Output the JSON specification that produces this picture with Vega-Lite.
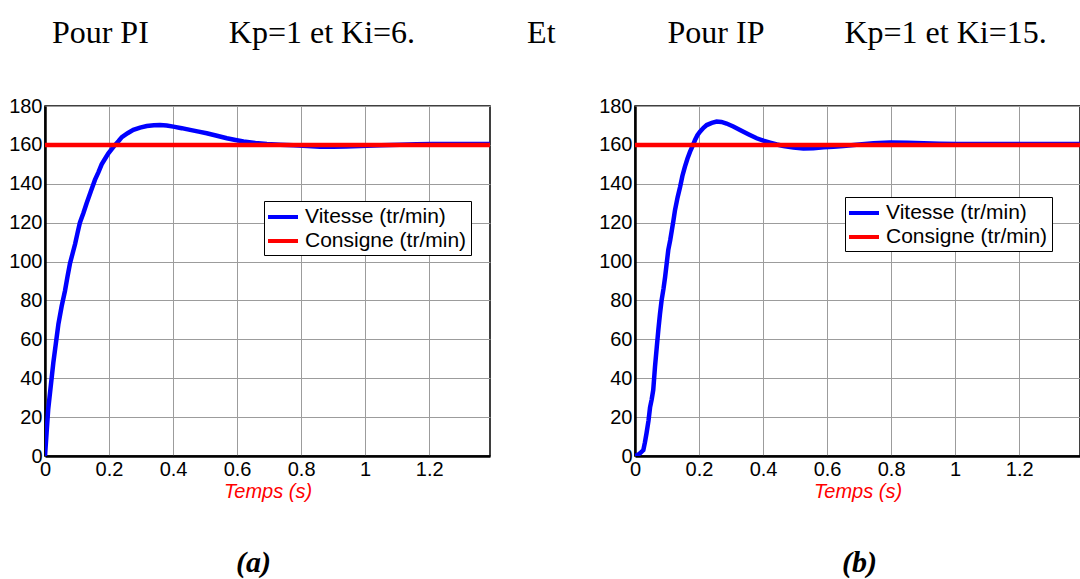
{
  "$schema": "https://vega.github.io/schema/vega-lite/v6.json",
  "background": "white",
  "padding": {"left": 7, "top": 17, "right": 0, "bottom": 0},
  "title": {
    "text": "Pour PI\u00a0\u00a0\u00a0\u00a0\u00a0\u00a0\u00a0\u00a0\u00a0\u00a0Kp=1 et Ki=6.\u00a0\u00a0\u00a0\u00a0\u00a0\u00a0\u00a0\u00a0\u00a0\u00a0\u00a0\u00a0\u00a0\u00a0Et\u00a0\u00a0\u00a0\u00a0\u00a0\u00a0\u00a0\u00a0\u00a0\u00a0\u00a0\u00a0\u00a0\u00a0Pour IP\u00a0\u00a0\u00a0\u00a0\u00a0\u00a0\u00a0\u00a0\u00a0\u00a0Kp=1 et Ki=15.",
    "anchor": "start",
    "frame": "bounds",
    "font": "Liberation Serif",
    "fontSize": 32,
    "fontWeight": "normal",
    "color": "black",
    "dx": 44,
    "offset": 45
  },
  "bounds": "flush",
  "spacing": 145,
  "datasets": {
    "pi": [
      {"t": 0, "v": 0}, {"t": 0.005, "v": 12}, {"t": 0.01, "v": 24}, {"t": 0.018, "v": 36},
      {"t": 0.026, "v": 48}, {"t": 0.034, "v": 58}, {"t": 0.042, "v": 68}, {"t": 0.052, "v": 77},
      {"t": 0.0625, "v": 85}, {"t": 0.07, "v": 92}, {"t": 0.078, "v": 99}, {"t": 0.086, "v": 104},
      {"t": 0.094, "v": 109}, {"t": 0.102, "v": 115}, {"t": 0.109, "v": 120}, {"t": 0.12, "v": 125},
      {"t": 0.13, "v": 130}, {"t": 0.143, "v": 136}, {"t": 0.156, "v": 142}, {"t": 0.167, "v": 146},
      {"t": 0.177, "v": 150}, {"t": 0.188, "v": 153}, {"t": 0.198, "v": 155.7}, {"t": 0.209, "v": 158},
      {"t": 0.219, "v": 160}, {"t": 0.23, "v": 162}, {"t": 0.24, "v": 164}, {"t": 0.258, "v": 166},
      {"t": 0.276, "v": 167.7}, {"t": 0.297, "v": 168.9}, {"t": 0.318, "v": 169.7}, {"t": 0.34, "v": 170.1},
      {"t": 0.359, "v": 170.2}, {"t": 0.38, "v": 170}, {"t": 0.401, "v": 169.4}, {"t": 0.427, "v": 168.6},
      {"t": 0.453, "v": 167.7}, {"t": 0.48, "v": 166.8}, {"t": 0.505, "v": 166}, {"t": 0.537, "v": 164.7},
      {"t": 0.568, "v": 163.4}, {"t": 0.595, "v": 162.5}, {"t": 0.62, "v": 161.7}, {"t": 0.657, "v": 161},
      {"t": 0.693, "v": 160.5}, {"t": 0.735, "v": 160.1}, {"t": 0.776, "v": 159.8}, {"t": 0.82, "v": 159.4},
      {"t": 0.859, "v": 159.1}, {"t": 0.9, "v": 159.1}, {"t": 0.94, "v": 159.2}, {"t": 0.984, "v": 159.4},
      {"t": 1.05, "v": 159.8}, {"t": 1.109, "v": 160.1}, {"t": 1.16, "v": 160.3}, {"t": 1.21, "v": 160.5},
      {"t": 1.3, "v": 160.5}, {"t": 1.39, "v": 160.5}
    ],
    "ip": [
      {"t": 0, "v": 0}, {"t": 0.008, "v": 0.5}, {"t": 0.0156, "v": 1.4}, {"t": 0.026, "v": 3},
      {"t": 0.031, "v": 7}, {"t": 0.036, "v": 11.7}, {"t": 0.042, "v": 18}, {"t": 0.047, "v": 25},
      {"t": 0.052, "v": 29}, {"t": 0.057, "v": 34}, {"t": 0.0625, "v": 46}, {"t": 0.068, "v": 56},
      {"t": 0.073, "v": 65}, {"t": 0.078, "v": 73}, {"t": 0.083, "v": 80}, {"t": 0.089, "v": 86},
      {"t": 0.094, "v": 92}, {"t": 0.099, "v": 99}, {"t": 0.104, "v": 106}, {"t": 0.11, "v": 111},
      {"t": 0.115, "v": 116}, {"t": 0.12, "v": 121}, {"t": 0.125, "v": 126.5}, {"t": 0.133, "v": 133},
      {"t": 0.141, "v": 138.5}, {"t": 0.148, "v": 144}, {"t": 0.156, "v": 148.8}, {"t": 0.164, "v": 153},
      {"t": 0.172, "v": 156.5}, {"t": 0.18, "v": 159.5}, {"t": 0.1875, "v": 162.5}, {"t": 0.195, "v": 165},
      {"t": 0.203, "v": 166.8}, {"t": 0.214, "v": 168.8}, {"t": 0.224, "v": 170.2}, {"t": 0.24, "v": 171.3},
      {"t": 0.255, "v": 172}, {"t": 0.27, "v": 171.8}, {"t": 0.286, "v": 171}, {"t": 0.307, "v": 169.5},
      {"t": 0.328, "v": 167.7}, {"t": 0.354, "v": 165.5}, {"t": 0.38, "v": 163.4}, {"t": 0.401, "v": 162.2},
      {"t": 0.422, "v": 161.2}, {"t": 0.443, "v": 160.2}, {"t": 0.464, "v": 159.4}, {"t": 0.495, "v": 158.6},
      {"t": 0.526, "v": 158.2}, {"t": 0.557, "v": 158.3}, {"t": 0.589, "v": 158.8}, {"t": 0.62, "v": 159.1},
      {"t": 0.651, "v": 159.4}, {"t": 0.7, "v": 160.2}, {"t": 0.745, "v": 160.8}, {"t": 0.797, "v": 161.2},
      {"t": 0.85, "v": 161.1}, {"t": 0.901, "v": 160.8}, {"t": 0.95, "v": 160.6}, {"t": 1.005, "v": 160.5},
      {"t": 1.1, "v": 160.5}, {"t": 1.161, "v": 160.5}, {"t": 1.25, "v": 160.5}, {"t": 1.39, "v": 160.5}
    ],
    "consigne": [
      {"t": 0, "v": 160}, {"t": 1.39, "v": 160}
    ]
  },
  "config": {
    "view": {"stroke": "black", "strokeWidth": 1.5},
    "axis": {
      "labelFont": "Liberation Sans",
      "labelFontSize": 20,
      "labelColor": "black",
      "labelFlush": false,
      "labelOverlap": false,
      "labelPadding": 3,
      "domainColor": "black",
      "domainWidth": 2.5,
      "gridColor": "#9c9c9c",
      "gridWidth": 1,
      "gridOpacity": 1,
      "ticks": false,
      "titleFont": "Liberation Sans",
      "titleFontSize": 20,
      "titleFontStyle": "italic",
      "titleFontWeight": "normal",
      "titleColor": "#ff0000",
      "titlePadding": 2
    },
    "legend": {
      "orient": "none",
      "direction": "vertical",
      "title": null,
      "symbolType": "M-1.5,0H1.5",
      "symbolStrokeWidth": 4,
      "symbolSize": 400,
      "symbolOpacity": 1,
      "symbolOffset": 3,
      "labelFont": "Liberation Sans",
      "labelFontSize": 21,
      "labelLimit": 400,
      "labelColor": "black",
      "labelOffset": 10,
      "rowPadding": 2,
      "padding": 4,
      "fillColor": "white",
      "strokeColor": "black"
    }
  },
  "resolve": {"scale": {"color": "independent"}, "legend": {"color": "independent"}},
  "hconcat": [
    {
      "width": 445,
      "height": 350,
      "title": {
        "text": "(a)",
        "orient": "bottom",
        "anchor": "middle",
        "font": "Liberation Serif",
        "fontSize": 30,
        "fontStyle": "italic",
        "fontWeight": "bold",
        "color": "black",
        "dx": -14,
        "offset": 47
      },
      "encoding": {
        "x": {
          "field": "t",
          "type": "quantitative",
          "scale": {"domain": [0, 1.39], "nice": false, "zero": false},
          "axis": {"values": [0, 0.2, 0.4, 0.6, 0.8, 1, 1.2], "format": "~g", "title": "Temps (s)"}
        },
        "y": {
          "field": "v",
          "type": "quantitative",
          "scale": {"domain": [0, 180], "nice": false},
          "axis": {"values": [0, 20, 40, 60, 80, 100, 120, 140, 160, 180], "title": null}
        }
      },
      "layer": [
        {
          "data": {"name": "pi"},
          "mark": {"type": "line", "strokeWidth": 4.5, "clip": true},
          "encoding": {
            "color": {
              "datum": "Vitesse (tr/min)",
              "type": "nominal",
              "scale": {"domain": ["Vitesse (tr/min)", "Consigne (tr/min)"], "range": ["#0000ff", "#ff0000"]},
              "legend": {"legendX": 219, "legendY": 95}
            }
          }
        },
        {
          "data": {"name": "consigne"},
          "mark": {"type": "line", "strokeWidth": 4.5, "clip": true},
          "encoding": {
            "color": {"datum": "Consigne (tr/min)", "type": "nominal"}
          }
        }
      ]
    },
    {
      "width": 445,
      "height": 350,
      "title": {
        "text": "(b)",
        "orient": "bottom",
        "anchor": "middle",
        "font": "Liberation Serif",
        "fontSize": 30,
        "fontStyle": "italic",
        "fontWeight": "bold",
        "color": "black",
        "dx": 2,
        "offset": 47
      },
      "encoding": {
        "x": {
          "field": "t",
          "type": "quantitative",
          "scale": {"domain": [0, 1.39], "nice": false, "zero": false},
          "axis": {"values": [0, 0.2, 0.4, 0.6, 0.8, 1, 1.2], "format": "~g", "title": "Temps (s)"}
        },
        "y": {
          "field": "v",
          "type": "quantitative",
          "scale": {"domain": [0, 180], "nice": false},
          "axis": {"values": [0, 20, 40, 60, 80, 100, 120, 140, 160, 180], "title": null}
        }
      },
      "layer": [
        {
          "data": {"name": "ip"},
          "mark": {"type": "line", "strokeWidth": 4.5, "clip": true},
          "encoding": {
            "color": {
              "datum": "Vitesse (tr/min)",
              "type": "nominal",
              "scale": {"domain": ["Vitesse (tr/min)", "Consigne (tr/min)"], "range": ["#0000ff", "#ff0000"]},
              "legend": {"legendX": 210, "legendY": 91}
            }
          }
        },
        {
          "data": {"name": "consigne"},
          "mark": {"type": "line", "strokeWidth": 4.5, "clip": true},
          "encoding": {
            "color": {"datum": "Consigne (tr/min)", "type": "nominal"}
          }
        }
      ]
    }
  ]
}
